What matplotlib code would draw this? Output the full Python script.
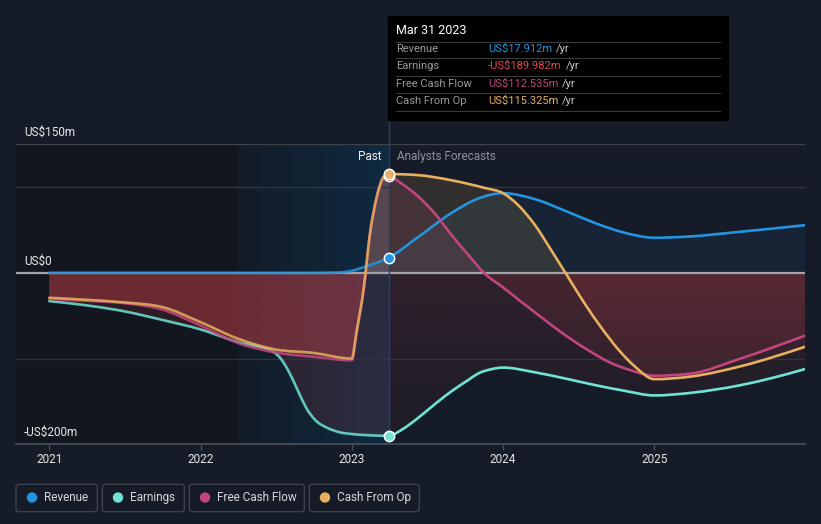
import matplotlib
matplotlib.use("Agg")
import matplotlib.pyplot as plt
import numpy as np
from matplotlib.colors import LinearSegmentedColormap, to_rgb
from matplotlib.patches import Rectangle, FancyBboxPatch, Circle, PathPatch
from matplotlib.path import Path

plt.rcParams['font.family'] = ['Roboto', 'DejaVu Sans']

# values (US$m, decimal years)
rev_years = [2021.0, 2021.25, 2021.5, 2021.75, 2022.0, 2022.25, 2022.5, 2022.75,
             2022.92, 2023.0, 2023.1, 2023.246, 2023.44, 2023.66, 2023.84, 2024.0,
             2024.21, 2024.43, 2024.61, 2024.8, 2025.0, 2025.24, 2025.57, 2026.0]
rev_vals = [0, 0, 0, 0, 0, 0, 0, 0,
            0.5, 2.5, 8, 17.9, 42, 70, 87, 93,
            86, 71, 58, 47, 41, 42.5, 48, 55.7]

earn_years = [2021.0, 2021.25, 2021.5, 2021.75, 2022.0, 2022.25, 2022.48, 2022.53,
              2022.58, 2022.64, 2022.70, 2022.76, 2022.84, 2022.92, 2023.0, 2023.12,
              2023.246, 2023.33, 2023.44, 2023.55, 2023.66, 2023.77, 2023.84, 2023.92,
              2024.0, 2024.21, 2024.43, 2024.61, 2024.8, 2025.0, 2025.24, 2025.57,
              2025.77, 2026.0]
earn_vals = [-33, -38, -45, -55, -66, -81, -92, -100,
             -114, -136, -158, -172, -181, -186, -188, -189.5,
             -190, -183, -169, -153, -138, -125, -117, -112.5,
             -110.5, -116, -124, -131, -137.5, -143, -140, -131,
             -123, -112]

fcf_years = [2021.0, 2021.25, 2021.5, 2021.75, 2022.0, 2022.25, 2022.5, 2022.75,
             2023.0, 2023.03, 2023.08, 2023.12, 2023.165, 2023.21, 2023.246,
             2023.33, 2023.44, 2023.55, 2023.66, 2023.77, 2023.88, 2024.0, 2024.1,
             2024.21, 2024.32, 2024.43, 2024.57, 2024.7, 2024.85, 2025.0, 2025.24,
             2025.57, 2026.0]
fcf_vals = [-30.5, -32.5, -35.5, -43, -61.5, -82, -93, -98,
            -102, -72, -18, 44, 87, 110, 112.5,
            104, 89, 69, 44, 21, -1, -17, -31,
            -46, -61, -75, -91, -104, -114, -120, -117.5,
            -100, -73]

cfo_years = [2021.0, 2021.25, 2021.5, 2021.75, 2022.0, 2022.25, 2022.5, 2022.75,
             2023.0, 2023.03, 2023.08, 2023.12, 2023.165, 2023.21, 2023.246,
             2023.44, 2023.66, 2023.88, 2024.0, 2024.1, 2024.21, 2024.32, 2024.43,
             2024.54, 2024.65, 2024.76, 2024.87, 2025.0, 2025.24, 2025.57, 2026.0]
cfo_vals = [-29, -31.5, -34.5, -40, -57.5, -77, -89.5, -93.5,
            -100, -70, -16, 46, 89, 112, 115.3,
            114, 108, 99, 93, 79, 56, 26, -5,
            -36, -64, -89, -109, -124, -121, -109, -86]

now = 2023.246
year_ticks = [2021, 2022, 2023, 2024, 2025]
year_labels = ["2021", "2022", "2023", "2024", "2025"]

names = ["Revenue", "Earnings", "Free Cash Flow", "Cash From Op"]
colors = ["#2394df", "#6fe3d4", "#c2457f", "#e8b05e"]
tip_values = ["US$17.912m", "-US$189.982m", "US$112.535m", "US$115.325m"]
tip_colors = ["#2394df", "#e5484d", "#c2457f", "#e8b05e"]

bg = "#151b27"
neg_red = "#e0474c"


def mono_tangents(x, y):
    # monotone cubic tangents (same rule as d3 curveMonotoneX)
    h = np.diff(x)
    s = np.diff(y) / h
    n = len(x)
    t = np.zeros(n)
    for i in range(1, n - 1):
        s0, s1 = s[i - 1], s[i]
        p = (s0 * h[i] + s1 * h[i - 1]) / (h[i - 1] + h[i])
        t[i] = (np.sign(s0) + np.sign(s1)) * min(abs(s0), abs(s1), 0.5 * abs(p))
    t[0] = (3 * s[0] - t[1]) / 2
    t[-1] = (3 * s[-1] - t[-2]) / 2
    return t


def curve_verts(x, y, t, idx):
    verts = [(x[idx[0]], y[idx[0]])]
    codes = [Path.MOVETO]
    for a, b in zip(idx[:-1], idx[1:]):
        dx = (x[b] - x[a]) / 3
        verts += [(x[a] + dx, y[a] + dx * t[a]), (x[b] - dx, y[b] - dx * t[b]), (x[b], y[b])]
        codes += [Path.CURVE4] * 3
    return verts, codes


fig = plt.figure(figsize=(8.21, 5.24), dpi=100, facecolor=bg)
W, H = 821, 524
ax = fig.add_axes([16 / W, 1 - 444.3 / H, (805 - 16) / W, 300 / H])
ax.set_facecolor(bg)
xmin, xmax = 2020.78, 2025.996
ymin, ymax = -200, 150

# past shading + last year highlight
ax.axvspan(xmin, now - 1, color="#12161e", zorder=0.2, lw=0)
grad = LinearSegmentedColormap.from_list("hl", ["#131c27", "#0f2a42"])
ax.imshow(np.linspace(0, 1, 200).reshape(1, -1), cmap=grad, aspect="auto",
          extent=[now - 1, now, ymin, ymax], zorder=0.3)


def region_fill(clip, color, extent, a_bottom, a_top):
    img = np.zeros((64, 1, 4))
    img[:, 0, :3] = to_rgb(color)
    img[:, 0, 3] = np.linspace(a_bottom, a_top, 64)
    im = ax.imshow(img, extent=extent, origin="lower", aspect="auto",
                   interpolation="bilinear", zorder=1)
    im.set_clip_path(clip)


series = [(rev_years, rev_vals), (earn_years, earn_vals),
          (fcf_years, fcf_vals), (cfo_years, cfo_vals)]
pos_alpha_past = [0.15, 0.15, 0.2, 0.2]
neg_alpha_past = [0.2, 0.13, 0.2, 0.2]
pos_alpha_fc = [0.08, 0.1, 0.14, 0.14]

line_paths = []
for i, (xs, ys) in enumerate(series):
    xs = np.array(xs, dtype=float)
    ys = np.array(ys, dtype=float)
    t = mono_tangents(xs, ys)
    all_idx = list(range(len(xs)))
    v, c = curve_verts(xs, ys, t, all_idx)
    v += [(xs[-1], 0), (xs[0], 0), (xs[0], 0)]
    c += [Path.LINETO, Path.LINETO, Path.CLOSEPOLY]
    clip = PathPatch(Path(v, c), transform=ax.transData, fc="none", ec="none")
    ax.add_patch(clip)
    region_fill(clip, colors[i], [xmin, now, 0, ymax], pos_alpha_past[i], pos_alpha_past[i])
    region_fill(clip, neg_red, [xmin, now, ymin, 0], neg_alpha_past[i], neg_alpha_past[i])
    region_fill(clip, colors[i], [now, xmax, 0, ymax], pos_alpha_fc[i], pos_alpha_fc[i])
    region_fill(clip, neg_red, [now, xmax, ymin, 0], 0.04, 0.13)

    k = [abs(x - now) < 1e-9 for x in xs].index(True)
    line_paths.append((Path(*curve_verts(xs, ys, t, all_idx[:k + 1])),
                       Path(*curve_verts(xs, ys, t, all_idx[k:]))))

# grid
for g in [100, -100]:
    ax.axhline(g, color="#2f343e", lw=1, zorder=1.5)
ax.axhline(150, color="#3d424b", lw=1, zorder=1.5)
ax.axhline(0, color="#a3a3a8", lw=1.6, zorder=2)
ax.axhline(-200, color="#4b505a", lw=1.2, zorder=2, clip_on=False)

# lines
for i, (p_past, p_fc) in enumerate(line_paths):
    ax.add_patch(PathPatch(p_past, fc="none", ec=colors[i], lw=1.9, alpha=0.85,
                           zorder=3, capstyle="round", joinstyle="round"))
    ax.add_patch(PathPatch(p_fc, fc="none", ec=colors[i], lw=1.9,
                           zorder=3, capstyle="round", joinstyle="round"))

# divider at today
ax.plot([now, now], [ymin, 178.5], color="#1f4466", lw=1, zorder=2.5, clip_on=False)

# markers at the last reported point
for i in [2, 3, 0, 1]:
    xs, ys = series[i]
    ax.scatter([now], [ys[xs.index(now)]], s=55, color=colors[i],
               edgecolor="white", linewidth=1.1, zorder=5)

ax.set_xlim(xmin, xmax)
ax.set_ylim(ymin, ymax)
for s in ax.spines.values():
    s.set_visible(False)
ax.set_yticks([])
ax.set_xticks(year_ticks)
ax.set_xticklabels(year_labels)
ax.tick_params(axis="x", direction="out", length=4, width=1, color="#4b505a",
               labelcolor="#e8e8e8", labelsize=8.5, pad=2.5)

# y labels inside the plot
for v, lab in [(150, "US$150m"), (0, "US$0"), (-200, "-US$200m")]:
    ax.annotate(lab, xy=(0, v), xycoords=("axes fraction", "data"),
                xytext=(8, 12), textcoords="offset pixels", ha="left", va="center",
                color="#e8e8e8", fontsize=8.5)

ax.annotate("Past", xy=(now, ymax), xytext=(-8, -12), textcoords="offset pixels",
            ha="right", va="center", color="#f0f0f0", fontsize=8.5)
ax.annotate("Analysts Forecasts", xy=(now, ymax), xytext=(8, -12),
            textcoords="offset pixels", ha="left", va="center", color="#8d939c",
            fontsize=8.5)

# overlay in pixel coords for tooltip and legend
ov = fig.add_axes([0, 0, 1, 1], zorder=10)
ov.set_xlim(0, W)
ov.set_ylim(H, 0)
ov.axis("off")
ov.patch.set_visible(False)

ov.add_patch(Rectangle((388, 16), 340, 104, color="black", zorder=1))
ov.text(396, 31, "Mar 31 2023", color="white", fontsize=9, va="center", zorder=2)
for yy in [41.7, 58.3, 76, 93.3, 111]:
    ov.plot([396, 720], [yy, yy], color="#3a3a3a", lw=0.8, zorder=2)

fig.canvas.draw()
renderer = fig.canvas.get_renderer()
row_y = [49.3, 66, 83.7, 101]
for i in range(4):
    ov.text(396, row_y[i], names[i], color="#9a9a9a", fontsize=8, va="center", zorder=2)
    t = ov.text(488, row_y[i], tip_values[i], color=tip_colors[i], fontsize=8,
                va="center", zorder=2)
    bb = t.get_window_extent(renderer=renderer)
    ov.text(bb.x1 + 4, row_y[i], "/yr", color="#c8c8c8", fontsize=8,
            va="center", zorder=2)

# legend boxes
box_x = [(16, 97.3), (102.3, 184.3), (189.3, 304.3), (309.3, 419.3)]
dot_x = [32, 118, 205, 325]
txt_x = [44.3, 130, 217.3, 337.3]
for i in range(4):
    x0, x1 = box_x[i]
    ov.add_patch(FancyBboxPatch((x0, 484.3), x1 - x0, 27.4,
                                boxstyle="round,pad=0,rounding_size=3",
                                fc="none", ec="#3d424c", lw=1))
    ov.add_patch(Circle((dot_x[i], 497.5), 4.5, color=colors[i]))
    ov.text(txt_x[i], 497.5, names[i], color="#d8d8d8", fontsize=8.5, va="center")

fig.savefig("out.png", dpi=100, facecolor=bg)
